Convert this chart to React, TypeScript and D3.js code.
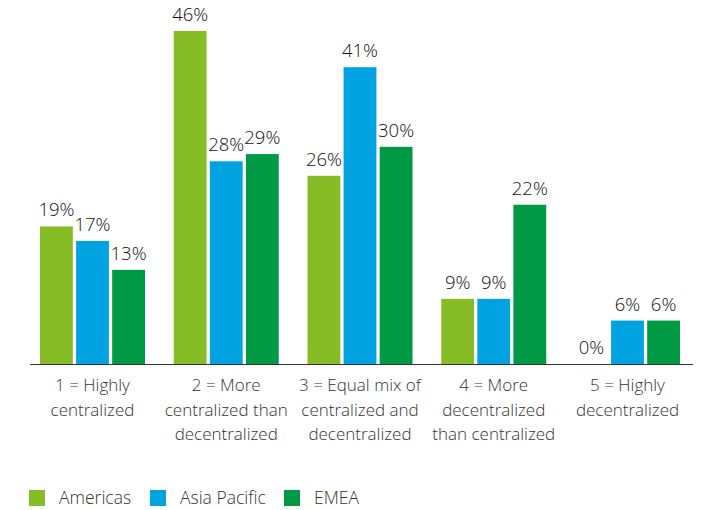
import React from "react";
import * as d3 from "d3";

const categories = [
  ["1 = Highly", "centralized"],
  ["2 = More", "centralized than", "decentralized"],
  ["3 = Equal mix of", "centralized and", "decentralized"],
  ["4 = More", "decentralized", "than centralized"],
  ["5 = Highly", "decentralized"],
];
const seriesNames = ["Americas", "Asia Pacific", "EMEA"];
const americas = [19, 46, 26, 9, 0];
const asiaPacific = [17, 28, 41, 9, 6];
const emea = [13, 29, 30, 22, 6];
const colors = ["#86BC25", "#00A3E0", "#009A44"];

const W = 707;
const H = 510;
const baseY = 364;
const font = "'Open Sans', 'Noto Sans', sans-serif";

export default function App() {
  const series = [americas, asiaPacific, emea];
  const keys = categories.map((_, i) => String(i));
  const x0 = d3.scaleBand<string>().domain(keys).range([28.5, 691.5]).paddingInner(0.215).paddingOuter(0.086);
  const x1 = d3.scaleBand<string>().domain(seriesNames).range([0, x0.bandwidth()]).paddingInner(0.09);
  const y = d3.scaleLinear().domain([0, 46]).range([baseY, 31]);

  return (
    <svg width={W} height={H} style={{ position: "absolute", left: 0, top: 0, background: "#fff" }}>
      {keys.map((k, ci) => (
        <g key={k} transform={`translate(${x0(k)},0)`}>
          {seriesNames.map((s, si) => {
            const v = series[si][ci];
            const bx = x1(s)!;
            return (
              <g key={s}>
                {v > 0 && (
                  <rect x={bx} y={y(v)} width={x1.bandwidth()} height={baseY - y(v)} fill={colors[si]} />
                )}
                <text
                  x={bx + x1.bandwidth() / 2}
                  y={y(v) - 10}
                  textAnchor="middle"
                  fontFamily={font}
                  fontSize={18.5}
                  fontWeight={300}
                  fill="#111"
                >
                  {v}%
                </text>
              </g>
            );
          })}
          {categories[ci].map((line, li) => (
            <text
              key={li}
              x={x0.bandwidth() / 2}
              y={391 + li * 24.5}
              textAnchor="middle"
              fontFamily={font}
              fontSize={17}
              fontWeight={300}
              fill="#333"
            >
              {line}
            </text>
          ))}
        </g>
      ))}
      <line x1={30} x2={693} y1={baseY + 0.5} y2={baseY + 0.5} stroke="#333" strokeWidth={1} />
      {seriesNames.map((s, i) => {
        const lx = [29, 150, 284][i];
        return (
          <g key={s}>
            <rect x={lx} y={490} width={16} height={16} fill={colors[i]} />
            <text x={lx + 30} y={503.5} fontFamily={font} fontSize={17.5} fontWeight={300} fill="#333">
              {s}
            </text>
          </g>
        );
      })}
    </svg>
  );
}
